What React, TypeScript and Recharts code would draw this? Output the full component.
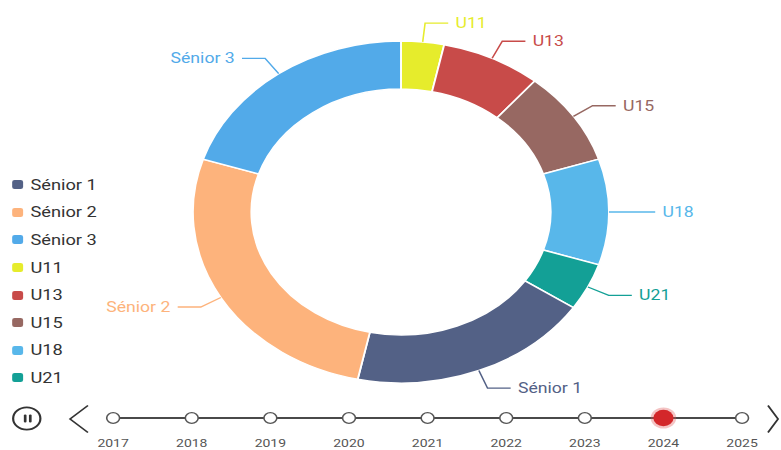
import { Cell, Legend, Line, LineChart, Pie, PieChart, XAxis, YAxis } from "recharts";

const categories = ["U11", "U13", "U15", "U18", "U21", "Sénior 1", "Sénior 2", "Sénior 3"];
const players = [3, 7, 8, 9, 4, 17, 24, 18];
const sliceColors = ["#e6ec2c", "#c84b49", "#976862", "#58b7ea", "#13a096", "#536186", "#fdb37c", "#52aae9"];
const legendOrder = ["Sénior 1", "Sénior 2", "Sénior 3", "U11", "U13", "U15", "U18", "U21"];
const years = ["2017", "2018", "2019", "2020", "2021", "2022", "2023", "2024", "2025"];
const currentYear = "2024";

// the reference is stretched sideways, so draw narrow and scale x
const STRETCH = 1.2165;
const W = 642;
const RAD = Math.PI / 180;
const FONT = "Roboto, 'Noto Sans', sans-serif";

const pieData = categories.map((name, i) => ({ name, value: players[i] }));
const timeline = years.map((year) => ({ year, track: 0 }));
const colorOf = (name: string) => sliceColors[categories.indexOf(name)];

function SliceLabel(props: any) {
	const { cx, cy, midAngle, outerRadius } = props;
	const name = props.payload?.name ?? props.name;
	const color = colorOf(name);
	const cos = Math.cos(-midAngle * RAD);
	const sin = Math.sin(-midAngle * RAD);
	const x0 = cx + outerRadius * cos;
	const y0 = cy + outerRadius * sin;
	const x1 = cx + (outerRadius + 19) * cos;
	const y1 = cy + (outerRadius + 19) * sin;
	const right = cos >= 0;
	const x2 = x1 + (right ? 19 : -19);
	return (
		<g>
			<polyline points={`${x0},${y0} ${x1},${y1} ${x2},${y1}`} fill="none" stroke={color} strokeWidth={1.3} />
			<text x={x2 + (right ? 6 : -6)} y={y1} fill={color} fontSize={14.5} fontFamily={FONT} textAnchor={right ? "start" : "end"} dominantBaseline="central">
				{name}
			</text>
		</g>
	);
}

function LegendList() {
	return (
		<div style={{ fontFamily: FONT, fontSize: 15, color: "#333" }}>
			{legendOrder.map((name) => (
				<div key={name} style={{ height: 27.6, display: "flex", alignItems: "center" }}>
					<span style={{ width: 8.5, height: 9, borderRadius: 2, background: colorOf(name), marginLeft: 10, marginRight: 6.5 }} />
					<span>{name}</span>
				</div>
			))}
		</div>
	);
}

function YearDot(props: any) {
	const { cx, cy, payload } = props;
	if (payload.year === currentYear) {
		return (
			<g key={payload.year}>
				<circle cx={cx} cy={cy} r={10.5} fill="#e05656" opacity={0.35} />
				<circle cx={cx} cy={cy} r={8.3} fill="#d3272a" />
			</g>
		);
	}
	return <circle key={payload.year} cx={cx} cy={cy} r={5.3} fill="#fff" stroke="#555" strokeWidth={1.3} />;
}

function YearTick(props: any) {
	const { x, y, payload } = props;
	return (
		<text x={x} y={y} dy="0.71em" textAnchor="middle" fontSize={11.5} fontFamily={FONT} fill="#555">
			{payload.value}
		</text>
	);
}

export default function App() {
	return (
		<div style={{ position: "absolute", left: 0, top: 0, width: 781, height: 450, overflow: "hidden", background: "#fff" }}>
			<div style={{ position: "relative", width: W, height: 450, transform: `scaleX(${STRETCH})`, transformOrigin: "0 0" }}>
				<div style={{ position: "absolute", left: 0, top: 0 }}>
					<PieChart width={W} height={406} margin={{ top: 0, right: 0, bottom: 0, left: 0 }}>
						<Pie
							data={pieData}
							dataKey="value"
							nameKey="name"
							cx={329.6}
							cy={212}
							innerRadius={123}
							outerRadius={171}
							startAngle={90}
							endAngle={-270}
							stroke="#fff"
							strokeWidth={1.5}
							label={SliceLabel}
							labelLine={false}
							isAnimationActive={false}
						>
							{pieData.map((d, i) => (
								<Cell key={d.name} fill={sliceColors[i]} />
							))}
						</Pie>
						<Legend layout="horizontal" verticalAlign="middle" align="center" wrapperStyle={{ left: 0, top: 171, width: 120 }} content={() => <LegendList />} />
					</PieChart>
				</div>
				<div style={{ position: "absolute", left: 0, top: 395 }}>
					<LineChart width={W} height={55} data={timeline} margin={{ top: 16, right: 32, bottom: 0, left: 93 }}>
						<XAxis dataKey="year" scale="point" padding={{ left: 0, right: 0 }} axisLine={false} tickLine={false} tickMargin={8} height={25} interval={0} tick={<YearTick />} />
						<YAxis hide domain={[-1, 1]} />
						<Line dataKey="track" stroke="#4a4a4a" strokeWidth={2} dot={YearDot} activeDot={false} isAnimationActive={false} />
					</LineChart>
				</div>
				<svg style={{ position: "absolute", left: 0, top: 0 }} width={W} height={450} pointerEvents="none">
					<circle cx={22} cy={418.5} r={11.2} fill="none" stroke="#333" strokeWidth={1.8} />
					<rect x={19.6} y={414.6} width={2.2} height={8} rx={1} fill="#333" />
					<rect x={23.8} y={414.6} width={2.2} height={8} rx={1} fill="#333" />
					<polyline points="72.3,405.5 57.6,419 72.3,432.5" fill="none" stroke="#333" strokeWidth={1.5} />
					<polyline points="631.3,405.5 639.6,419 631.3,432.5" fill="none" stroke="#333" strokeWidth={1.5} />
				</svg>
			</div>
		</div>
	);
}
